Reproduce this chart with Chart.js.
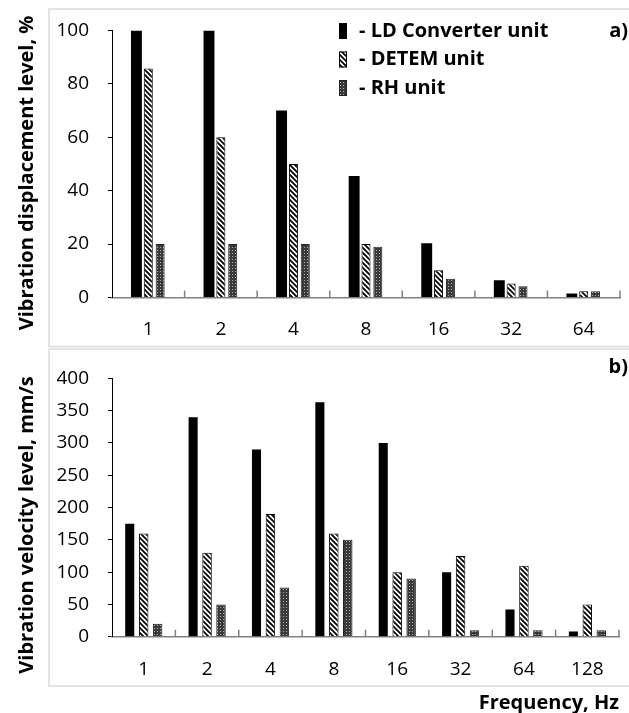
<!DOCTYPE html>
<html>
<head>
<meta charset="utf-8">
<script src="https://cdn.jsdelivr.net/npm/chart.js@4.4.0/dist/chart.umd.min.js"></script>
<style>
  html, body { margin: 0; padding: 0; background: #fff; }
  #wrap { position: relative; width: 629px; height: 713px; }
  .panel { position: absolute; left: 0; }
  #top { top: 0; }
  #bottom { top: 348px; }
</style>
</head>
<body>
<div id="wrap">
  <div class="panel" id="top"><canvas id="dispChart" width="629" height="348"></canvas></div>
  <div class="panel" id="bottom"><canvas id="velChart" width="629" height="365"></canvas></div>
</div>
<script>
// series names (legend)
const seriesNames = ['- LD Converter unit', '- DETEM unit', '- RH unit'];

// a) vibration displacement level, %
const dispFreq = ['1', '2', '4', '8', '16', '32', '64'];
const dispLD = [100, 100, 70, 45.5, 20.3, 6.5, 1.5];
const dispDETEM = [85.7, 60, 50, 20, 10.2, 5.2, 2.3];
const dispRH = [20, 20, 20, 19, 7, 4.2, 2.3];
const dispTicks = [0, 20, 40, 60, 80, 100];

// b) vibration velocity level, mm/s
const velFreq = ['1', '2', '4', '8', '16', '32', '64', '128'];
const velLD = [175, 340, 290, 363, 300, 100, 42, 8];
const velDETEM = [160, 130, 190, 160, 100, 125, 110, 50];
const velRH = [20, 50, 76, 150, 90, 10, 10, 10];
const velTicks = [0, 50, 100, 150, 200, 250, 300, 350, 400];

const FONT = 'Open Sans';

// fill patterns
function hatchPattern() {
    const c = document.createElement('canvas');
    c.width = 5; c.height = 5;
    const g = c.getContext('2d');
    g.fillStyle = '#fff';
    g.fillRect(0, 0, 5, 5);
    g.strokeStyle = '#000';
    g.lineWidth = 1.8;
    g.beginPath();
    g.moveTo(-1, -1); g.lineTo(6, 6);
    g.moveTo(-1, 4); g.lineTo(1, 6);
    g.moveTo(4, -1); g.lineTo(6, 1);
    g.stroke();
    return g.createPattern(c, 'repeat');
}

function dotPattern() {
    const c = document.createElement('canvas');
    c.width = 3; c.height = 3;
    const g = c.getContext('2d');
    g.fillStyle = '#3a3a3a';
    g.fillRect(0, 0, 3, 3);
    g.fillStyle = '#b0b0b0';
    g.fillRect(1, 1, 1, 1);
    return g.createPattern(c, 'repeat');
}

const hatch = hatchPattern();
const dots = dotPattern();

// box, panel letter, axis titles, inside x ticks, legend
function decor(cfg) {
    return {
        id: 'decor',
        beforeDraw(chart) {
            const ctx = chart.ctx;
            ctx.save();
            ctx.strokeStyle = '#dcdcdc';
            ctx.lineWidth = 1.5;
            ctx.strokeRect(cfg.box[0], cfg.box[1], cfg.box[2], cfg.box[3]);
            ctx.restore();
        },
        afterDraw(chart) {
            const ctx = chart.ctx;
            const area = chart.chartArea;
            const n = chart.data.labels.length;
            ctx.save();

            // short tick marks between categories, pointing up
            ctx.strokeStyle = '#808080';
            ctx.lineWidth = 1.5;
            for (let i = 1; i <= n; i++) {
                const x = area.left + i * (area.right - area.left) / n;
                ctx.beginPath();
                ctx.moveTo(x, area.bottom);
                ctx.lineTo(x, area.bottom - 7);
                ctx.stroke();
            }

            ctx.fillStyle = '#000';
            ctx.textBaseline = 'middle';
            ctx.font = 'bold 20px "' + FONT + '"';

            // panel letter
            ctx.textAlign = 'right';
            ctx.fillText(cfg.letter, 628, cfg.letterY);

            // x title
            if (cfg.xTitle) {
                ctx.fillText(cfg.xTitle, 619, cfg.xTitleY);
            }

            // y title
            ctx.save();
            ctx.translate(cfg.yTitle[0], cfg.yTitle[1]);
            ctx.rotate(-Math.PI / 2);
            ctx.textAlign = 'center';
            ctx.fillText(cfg.yTitleText, 0, 0);
            ctx.restore();

            // legend
            if (cfg.legend) {
                chart.data.datasets.forEach((ds, i) => {
                    const y = cfg.legend[1] + i * 28.5;
                    ctx.fillStyle = ds.backgroundColor;
                    ctx.fillRect(cfg.legend[0], y - 8, 8, 16);
                    if (ds.borderWidth) {
                        ctx.strokeStyle = ds.borderColor;
                        ctx.lineWidth = 1;
                        ctx.strokeRect(cfg.legend[0] + 0.5, y - 7.5, 7, 15);
                    }
                    ctx.fillStyle = '#000';
                    ctx.textAlign = 'left';
                    ctx.fillText(ds.label, cfg.legend[0] + 20, y);
                });
            }
            ctx.restore();
        }
    };
}

function makeChart(id, labels, series, ticks, yMax, bars, pad, xHeight, cfg) {
    return new Chart(document.getElementById(id), {
        type: 'bar',
        data: {
            labels: labels,
            datasets: [
                { label: seriesNames[0], data: series[0], backgroundColor: '#000', borderWidth: 0,
                  barPercentage: bars[0], categoryPercentage: bars[3] },
                { label: seriesNames[1], data: series[1], backgroundColor: hatch, borderColor: '#000', borderWidth: 1,
                  barPercentage: bars[1], categoryPercentage: bars[3] },
                { label: seriesNames[2], data: series[2], backgroundColor: dots, borderColor: '#222', borderWidth: 1,
                  barPercentage: bars[2], categoryPercentage: bars[3] }
            ]
        },
        options: {
            responsive: false,
            animation: false,
            layout: { padding: pad },
            plugins: {
                legend: { display: false },
                tooltip: { enabled: false }
            },
            scales: {
                x: {
                    grid: { display: false, drawTicks: false },
                    border: { display: true, color: '#808080', width: 1.5 },
                    ticks: { font: { family: FONT, size: 19 }, color: '#000', padding: 21 },
                    afterFit: s => { s.height = xHeight; }
                },
                y: {
                    min: 0,
                    max: yMax,
                    afterBuildTicks: s => { s.ticks = ticks.map(v => ({ value: v })); },
                    grid: { drawOnChartArea: false, drawTicks: true, tickLength: 4, color: '#000' },
                    border: { display: true, color: '#000', width: 1 },
                    ticks: { font: { family: FONT, size: 19 }, color: '#000', padding: 19 },
                    afterFit: s => { s.width = 112; }
                }
            }
        },
        plugins: [decor(cfg)]
    });
}

makeChart('dispChart', dispFreq, [dispLD, dispDETEM, dispRH], dispTicks, 100,
    [0.92, 0.76, 0.76, 0.49], { top: 28, right: 9, left: 0, bottom: 0 }, 50.5,
    { box: [49, 9, 600, 337.5], letter: 'a)', letterY: 31,
      yTitle: [27, 173], yTitleText: 'Vibration displacement level, %',
      legend: [339, 31] });

makeChart('velChart', velFreq, [velLD, velDETEM, velRH], velTicks, 400,
    [0.65, 0.68, 0.68, 0.66], { top: 18.7, right: 10, left: 0, bottom: 0 }, 76.3,
    { box: [49, 1, 600, 337], letter: 'b)', letterY: 19,
      yTitle: [27, 177], yTitleText: 'Vibration velocity level, mm/s',
      xTitle: 'Frequency, Hz', xTitleY: 355 });
</script>
</body>
</html>
